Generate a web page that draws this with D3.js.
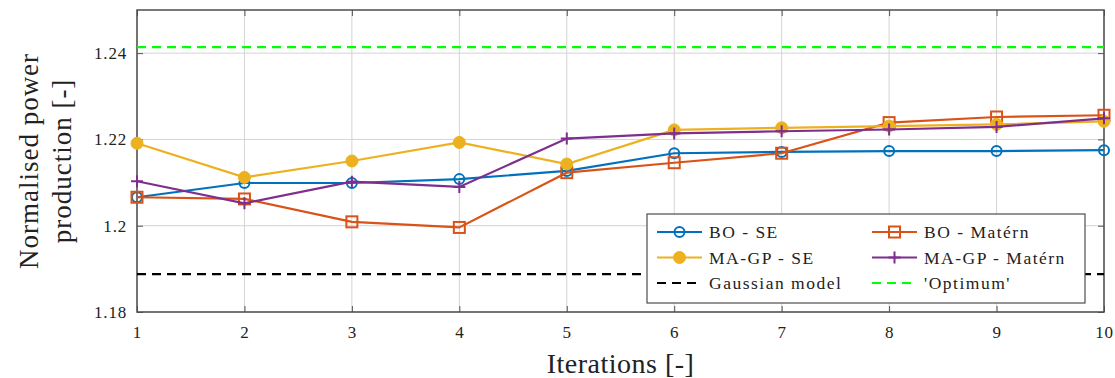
<!DOCTYPE html>
<html>
<head>
<meta charset="utf-8">
<script src="https://cdn.jsdelivr.net/npm/d3@7"></script>
<style>
body { margin: 0; background: #fff; }
svg { font-family: "Liberation Serif", serif; }
</style>
</head>
<body>
<svg id="chart" width="1115" height="378"></svg>
<script>
var iterations = [1, 2, 3, 4, 5, 6, 7, 8, 9, 10];
var boSE      = [1.2066, 1.2099, 1.2099, 1.2108, 1.2127, 1.2168, 1.2171, 1.2173, 1.2173, 1.2175];
var boMatern  = [1.2066, 1.2062, 1.2009, 1.1996, 1.2123, 1.2146, 1.2168, 1.2239, 1.2252, 1.2256];
var magpSE    = [1.2191, 1.2112, 1.2150, 1.2193, 1.2143, 1.2222, 1.2227, 1.2231, 1.2235, 1.2242];
var magpMatern= [1.2103, 1.2052, 1.2102, 1.2090, 1.2202, 1.2214, 1.2219, 1.2223, 1.2229, 1.2249];
var gaussianModel = 1.1888;
var optimum = 1.2414;
var yTicks = [1.18, 1.2, 1.22, 1.24];
var yTickLabels = ["1.18", "1.2", "1.22", "1.24"];

var svg = d3.select('#chart');
var pLeft = 137, pRight = 1104, pTop = 10, pBottom = 312;

var xScale = d3.scaleLinear().domain([1, 10]).range([pLeft, pRight]);
var yScale = d3.scaleLinear().domain([1.18, 1.25]).range([pBottom, pTop]);

// grid
svg.append('g').selectAll('line').data(iterations).enter().append('line')
    .attr('x1', function(d){ return xScale(d); }).attr('x2', function(d){ return xScale(d); })
    .attr('y1', pTop).attr('y2', pBottom)
    .attr('stroke', '#d4d4d4').attr('stroke-width', 1);
svg.append('g').selectAll('line').data(yTicks).enter().append('line')
    .attr('x1', pLeft).attr('x2', pRight)
    .attr('y1', function(d){ return yScale(d); }).attr('y2', function(d){ return yScale(d); })
    .attr('stroke', '#d4d4d4').attr('stroke-width', 1);

// axes with inward ticks
svg.append('g')
    .attr('transform', 'translate(0,' + pBottom + ')')
    .call(d3.axisBottom(xScale).tickValues(iterations).tickFormat(d3.format('d')).tickSizeInner(-6).tickSizeOuter(0).tickPadding(14));
svg.append('g')
    .attr('transform', 'translate(' + pLeft + ',0)')
    .call(d3.axisLeft(yScale).tickValues(yTicks).tickFormat(function(d, i){ return yTickLabels[i]; }).tickSizeInner(-6).tickSizeOuter(0).tickPadding(10));
svg.append('g')
    .attr('transform', 'translate(' + pRight + ',0)')
    .call(d3.axisRight(yScale).tickValues(yTicks).tickFormat('').tickSizeInner(-6).tickSizeOuter(0));
svg.append('g')
    .attr('transform', 'translate(0,' + pTop + ')')
    .call(d3.axisTop(xScale).tickValues(iterations).tickFormat('').tickSizeInner(-6).tickSizeOuter(0));
svg.selectAll('.domain').remove();
svg.selectAll('.tick line').attr('stroke', '#555');
svg.selectAll('.tick text').attr('font-family', '"Liberation Serif", serif').attr('font-size', 17)
    .attr('fill', '#222').style('letter-spacing', '0.8px');

// frame
svg.append('rect').attr('x', pLeft).attr('y', pTop).attr('width', pRight - pLeft).attr('height', pBottom - pTop)
    .attr('fill', 'none').attr('stroke', '#4d4d4d').attr('stroke-width', 1.5);

// reference lines
svg.append('line').attr('x1', pLeft).attr('x2', pRight)
    .attr('y1', yScale(gaussianModel)).attr('y2', yScale(gaussianModel))
    .attr('stroke', '#000').attr('stroke-width', 2.2).attr('stroke-dasharray', '9,6');
svg.append('line').attr('x1', pLeft).attr('x2', pRight)
    .attr('y1', yScale(optimum)).attr('y2', yScale(optimum))
    .attr('stroke', '#00ff00').attr('stroke-width', 2.2).attr('stroke-dasharray', '9,6');

var series = [
    { name: 'BO - SE', values: boSE, color: '#0072BD', marker: 'circleOpen' },
    { name: 'BO - Matérn', values: boMatern, color: '#D95319', marker: 'square' },
    { name: 'MA-GP - SE', values: magpSE, color: '#EDB120', marker: 'dot' },
    { name: 'MA-GP - Matérn', values: magpMatern, color: '#7E2F8E', marker: 'plus' }
];

var line = d3.line()
    .x(function(d, i){ return xScale(iterations[i]); })
    .y(function(d){ return yScale(d); });

function drawMarker(g, type, color, x, y) {
    if (type === 'circleOpen') {
        g.append('circle').attr('cx', x).attr('cy', y).attr('r', 5)
            .attr('fill', 'none').attr('stroke', color).attr('stroke-width', 2);
    } else if (type === 'square') {
        g.append('rect').attr('x', x - 5.5).attr('y', y - 5.5).attr('width', 11).attr('height', 11)
            .attr('fill', 'none').attr('stroke', color).attr('stroke-width', 2);
    } else if (type === 'dot') {
        g.append('circle').attr('cx', x).attr('cy', y).attr('r', 6)
            .attr('fill', color).attr('stroke', color).attr('stroke-width', 1);
    } else {
        g.append('path').attr('d', 'M' + (x - 6) + ',' + y + 'H' + (x + 6) + 'M' + x + ',' + (y - 6) + 'V' + (y + 6))
            .attr('stroke', color).attr('stroke-width', 2).attr('fill', 'none');
    }
}

series.forEach(function(s) {
    svg.append('path').datum(s.values).attr('d', line)
        .attr('fill', 'none').attr('stroke', s.color).attr('stroke-width', 2.2);
    var g = svg.append('g');
    s.values.forEach(function(v, i) {
        drawMarker(g, s.marker, s.color, xScale(iterations[i]), yScale(v));
    });
});

// legend
var lg = svg.append('g');
lg.append('rect').attr('x', 647).attr('y', 214).attr('width', 438).attr('height', 89)
    .attr('fill', '#fff').attr('stroke', '#4d4d4d').attr('stroke-width', 1.2);
var legendItems = series.map(function(s){ return { name: s.name, color: s.color, marker: s.marker, dash: null }; });
legendItems.push({ name: 'Gaussian model', color: '#000', marker: null, dash: '9,6' });
legendItems.push({ name: "'Optimum'", color: '#00ff00', marker: null, dash: '9,6' });
legendItems.forEach(function(item, i) {
    var col = i % 2, row = Math.floor(i / 2);
    var x0 = col === 0 ? 657 : 872;
    var y0 = 232 + row * 25.5;
    lg.append('line').attr('x1', x0).attr('x2', x0 + 45).attr('y1', y0).attr('y2', y0)
        .attr('stroke', item.color).attr('stroke-width', 2.2)
        .attr('stroke-dasharray', item.dash);
    if (item.marker) drawMarker(lg, item.marker, item.color, x0 + 22.5, y0);
    lg.append('text').attr('x', x0 + 52).attr('y', y0 + 6).attr('font-size', 17.5)
        .attr('fill', '#222').style('letter-spacing', '1.5px').text(item.name);
});

// axis labels
svg.append('text').attr('x', (pLeft + pRight) / 2).attr('y', 373)
    .attr('text-anchor', 'middle').attr('font-size', 28).attr('fill', '#222')
    .style('letter-spacing', '0.5px').text('Iterations [-]');
var yl = svg.append('text').attr('transform', 'rotate(-90)')
    .attr('text-anchor', 'middle').attr('font-size', 27).attr('fill', '#222')
    .style('letter-spacing', '1px');
yl.append('tspan').attr('x', -(pTop + pBottom) / 2).attr('y', 38).text('Normalised power');
yl.append('tspan').attr('x', -(pTop + pBottom) / 2).attr('y', 71).text('production [-]');
</script>
</body>
</html>
